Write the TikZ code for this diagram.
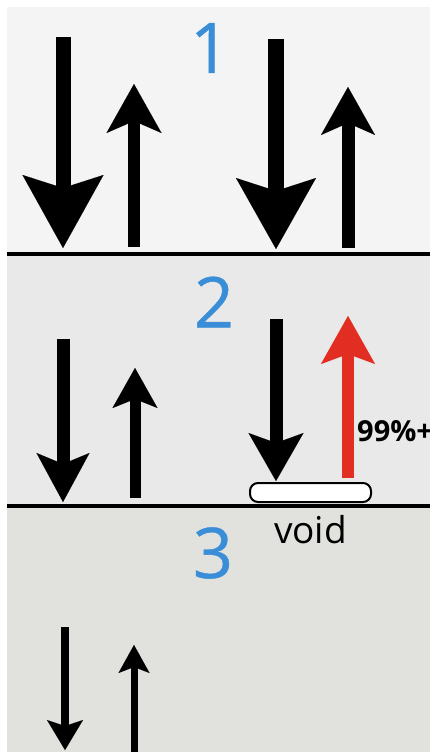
\documentclass[tikz,border=0pt]{standalone}
\usepackage{fontspec}
\newfontfamily\osans{Open Sans}
\newfontfamily\osansnum[FakeBold=0.6]{Open Sans}
\usetikzlibrary{arrows.meta}
\definecolor{panelA}{RGB}{244,244,244}
\definecolor{panelB}{RGB}{233,233,233}
\definecolor{panelC}{RGB}{225,225,222}
\definecolor{numblue}{RGB}{58,142,216}
\definecolor{flowred}{RGB}{226,45,35}
\tikzset{
  numlabel/.style={font=\osansnum\fontsize{70}{70}\selectfont, text=numblue, inner sep=0pt},
  divider/.style={line width=4pt, black},
  flow/.style n args={5}{line width=#1, -{Stealth[length=#2, width=#3, inset=#4, line width=0.01pt]}, draw=#5},
}
\begin{document}
\begin{tikzpicture}[x=1pt,y=-1pt]
\useasboundingbox (0,0) rectangle (430,752);
\clip (0,0) rectangle (430,752);
\fill[white] (0,0) rectangle (430,752);
% panels
\fill[panelA] (7,7) rectangle (430,253.5);
\fill[panelB] (7,253.5) rectangle (430,505.5);
\fill[panelC] (7,505.5) rectangle (430,752);
\draw[divider] (7,253.5) -- (430,253.5);
\draw[divider] (7,505.5) -- (430,505.5);
% labels
\node[numlabel] (n1) at (210,48) {1};
\node[numlabel] (n2) at (214,302) {2};
\node[numlabel] (n3) at (213,553) {3};
% void
\node[draw=black, line width=2pt, fill=white, rounded corners=8pt, minimum width=121pt, minimum height=19pt, inner sep=0pt] (voidbox) at (310.5,492.5) {};
\node[font=\osans\fontsize{37}{37}\selectfont, inner sep=0pt, anchor=base] (voidtxt) at (310.5,543) {void};
\node[font=\osans\bfseries\fontsize{29}{29}\selectfont, inner sep=0pt, anchor=base west] (pct) at (357,441) {99\%+};
% panel 1 arrows
\coordinate (a1s) at (63,37);   \coordinate (a1e) at (63,248);
\coordinate (b1s) at (134,247); \coordinate (b1e) at (134,84);
\coordinate (c1s) at (276,39);  \coordinate (c1e) at (276,249);
\coordinate (d1s) at (348,248); \coordinate (d1e) at (348,87);
\draw[flow={15pt}{73pt}{81pt}{13pt}{black}] (a1s) -- (a1e);
\draw[flow={12pt}{49pt}{55pt}{12pt}{black}] (b1s) -- (b1e);
\draw[flow={16pt}{71pt}{80pt}{13pt}{black}] (c1s) -- (c1e);
\draw[flow={13pt}{48pt}{54pt}{12pt}{black}] (d1s) -- (d1e);
% panel 2 arrows
\coordinate (a2s) at (63,339);  \coordinate (a2e) at (63,502);
\coordinate (b2s) at (135,498); \coordinate (b2e) at (135,368);
\coordinate (c2s) at (276,319); \coordinate (c2e) at (276,481);
\coordinate (d2s) at (348,478); \coordinate (d2e) at (348,316);
\draw[flow={13pt}{49pt}{53pt}{11pt}{black}] (a2s) -- (a2e);
\draw[flow={11pt}{40pt}{45pt}{9pt}{black}] (b2s) -- (b2e);
\draw[flow={13pt}{48pt}{55pt}{10pt}{black}] (c2s) -- (c2e);
\draw[flow={12pt}{48pt}{54pt}{10pt}{flowred}] (d2s) -- (d2e);
% panel 3 arrows
\coordinate (a3s) at (65,627);  \coordinate (a3e) at (65,750);
\coordinate (b3s) at (134,752); \coordinate (b3e) at (134,645);
\draw[flow={8pt}{30pt}{36pt}{6pt}{black}] (a3s) -- (a3e);
\draw[flow={7pt}{28pt}{31pt}{6pt}{black}] (b3s) -- (b3e);
\end{tikzpicture}
\end{document}
